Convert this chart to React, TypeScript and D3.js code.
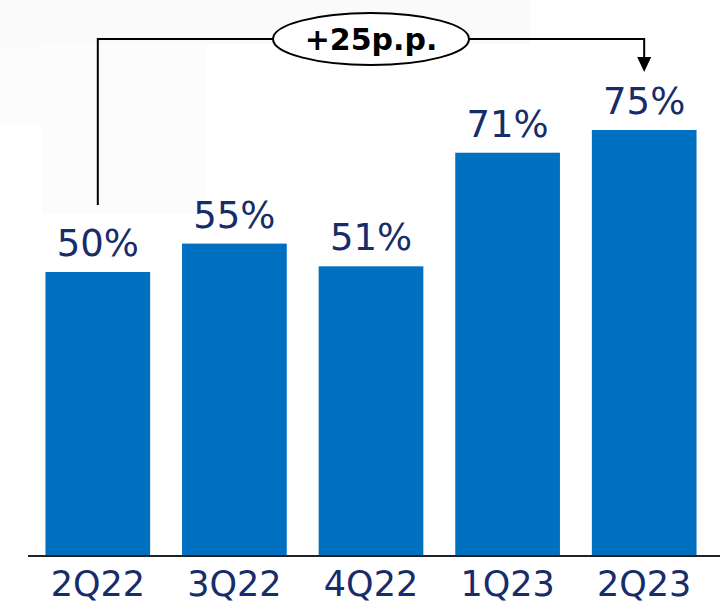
import React from "react";
import * as d3 from "d3";

const categories = ["2Q22", "3Q22", "4Q22", "1Q23", "2Q23"];
const values = [50, 55, 51, 71, 75];
const valueLabels = ["50%", "55%", "51%", "71%", "75%"];
const annotationText = "+25p.p.";

const W = 720;
const H = 604;
const BAR_COLOR = "#0070c0";
const TEXT_COLOR = "#172c6a";
const FONT = "'DejaVu Sans', sans-serif";

export default function App() {
  const baseline = 556;
  const x = d3.scaleBand<string>().domain(categories).range([10, 732]).paddingInner(0.2336).paddingOuter(0.2596);
  const y = d3.scaleLinear().domain([0, 75]).range([baseline, 130]);
  const bw = x.bandwidth();

  const first = categories[0];
  const last = categories[categories.length - 1];
  const xL = (x(first) as number) + bw * 0.5;
  const xR = (x(last) as number) + bw * 0.5;
  const lineY = 39;
  const ex = 371;

  return (
    <svg
      width={W}
      height={H}
      style={{ position: "absolute", left: 0, top: 0, display: "block" }}
      xmlns="http://www.w3.org/2000/svg"
    >
      <rect x={0} y={0} width={W} height={H} fill="#ffffff" />
      <rect x={0} y={0} width={530} height={44} fill="#fafafa" />
      <rect x={0} y={44} width={42} height={80} fill="#fbfbfb" />
      <rect x={42} y={44} width={164} height={170} fill="#fcfcfc" />

      {categories.map((c, i) => (
        <rect
          key={c}
          x={x(c)}
          y={y(values[i])}
          width={bw}
          height={baseline - y(values[i])}
          fill={BAR_COLOR}
        />
      ))}

      {categories.map((c, i) => (
        <text
          key={"v" + c}
          x={(x(c) as number) + bw / 2}
          y={y(values[i]) - 16}
          textAnchor="middle"
          fontFamily={FONT}
          fontSize={37}
          fill={TEXT_COLOR}
        >
          {valueLabels[i]}
        </text>
      ))}

      <line x1={28} x2={W} y1={baseline} y2={baseline} stroke="#222" strokeWidth={2} />

      {categories.map((c) => (
        <text
          key={"c" + c}
          x={(x(c) as number) + bw / 2}
          y={596}
          textAnchor="middle"
          fontFamily={FONT}
          fontSize={35}
          fill={TEXT_COLOR}
        >
          {c}
        </text>
      ))}

      <path
        d={`M${xL},205 L${xL},${lineY} L${xR},${lineY} L${xR},58`}
        fill="none"
        stroke="#000"
        strokeWidth={2}
      />
      <path d={`M${xR - 7},57 L${xR + 7},57 L${xR},72 Z`} fill="#000" />
      <ellipse cx={ex} cy={lineY} rx={98} ry={26} fill="#fff" stroke="#000" strokeWidth={2} />
      <text
        x={ex}
        y={lineY + 11}
        textAnchor="middle"
        fontFamily={FONT}
        fontWeight="bold"
        fontSize={30}
        fill="#000"
      >
        {annotationText}
      </text>
    </svg>
  );
}
